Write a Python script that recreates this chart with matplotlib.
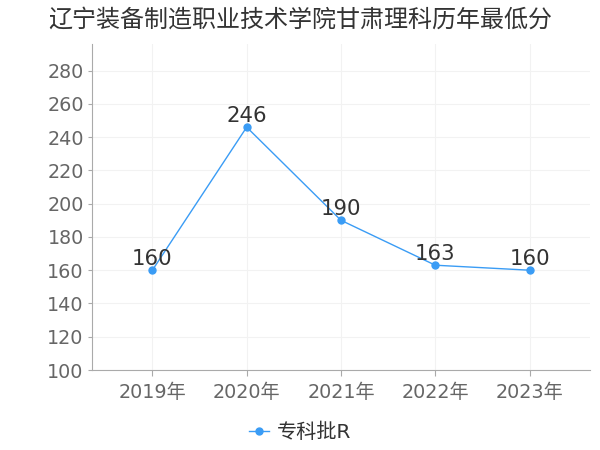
import matplotlib
matplotlib.use("Agg")
import matplotlib.pyplot as plt

plt.rcParams['font.family'] = ['DejaVu Sans', 'Noto Sans CJK SC']

title = "辽宁装备制造职业技术学院甘肃理科历年最低分"
years = ["2019年", "2020年", "2021年", "2022年", "2023年"]
scores = [160, 246, 190, 163, 160]
series_name = "专科批R"
yticks = [100, 120, 140, 160, 180, 200, 220, 240, 260, 280]

color = "#3a9cf5"
fig = plt.figure(figsize=(6, 4.5), dpi=100)
ax = fig.add_axes([92/600, 80/450, 498/600, 326/450])
x = list(range(len(years)))
ax.plot(x, scores, color=color, linewidth=1, marker='o', markersize=5, label=series_name)
for xi, v in zip(x, scores):
    ax.annotate(str(v), (xi, v), textcoords='offset points', xytext=(0, 3.5),
                ha='center', va='baseline', fontsize=15.3, color='#333333')

ax.set_xlim(-0.64, 4.64)
ax.set_ylim(100, 296)
ax.set_yticks(yticks)
ax.set_xticks(x)
ax.set_xticklabels(years)
ax.tick_params(axis='both', labelsize=13.8, width=0.8)
ax.tick_params(axis='x', colors='#aaaaaa', labelcolor='#666666', length=4, pad=5)
ax.tick_params(axis='y', colors='#aaaaaa', labelcolor='#666666', length=3, pad=3)
for s in ['top', 'right']:
    ax.spines[s].set_visible(False)
for s in ['left', 'bottom']:
    ax.spines[s].set_color('#aaaaaa')
ax.grid(True, color='#f2f2f2', linewidth=0.8)
ax.set_axisbelow(True)

fig.text(48/600, 1 - 20/450, title, fontsize=17.3, color='#333333', va='center', ha='left',
         family=['Noto Sans CJK SC', 'DejaVu Sans'])
fig.legend(loc='center', bbox_to_anchor=(300/600, 1 - 432/450), frameon=False,
           fontsize=14.5, handlelength=1.0, handletextpad=0.4, labelcolor='#333333')
fig.savefig("out.png", dpi=100)
